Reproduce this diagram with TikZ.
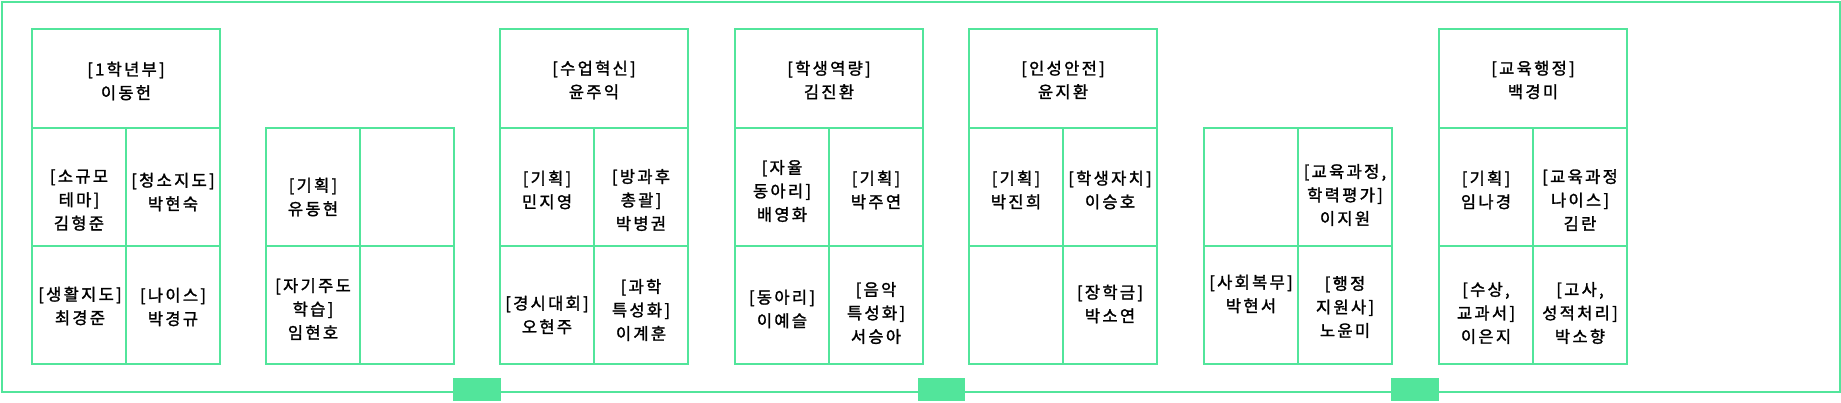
\documentclass[tikz,border=0pt]{standalone}
\usepackage{fontspec}
\newfontfamily\krfont[LetterSpace=14,FakeBold=1.6]{Noto Sans CJK KR}
\definecolor{mint}{HTML}{52E59B}
\tikzset{
	grid/.style={draw=mint,line width=2pt},
	who/.style={font=\krfont\fontsize{16.5}{23.5}\selectfont,align=center,inner sep=0pt},
	tab/.style={fill=mint},
}

\begin{document}
\begin{tikzpicture}[x=1pt,y=-1pt]
		\useasboundingbox (0,0) rectangle (1841,402);
		\draw[grid] (2,2) rectangle (1840,392);
		\fill[tab] (453,378) rectangle (501,401);
		\fill[tab] (918,378) rectangle (965,401);
		\fill[tab] (1391,378) rectangle (1439,401);

		% boxes
		\draw[grid] (32,29) rectangle (220,364) (32,128)--(220,128) (32,246)--(220,246) (126,128)--(126,364);
		\draw[grid] (266,128) rectangle (454,364) (266,246)--(454,246) (360,128)--(360,364);
		\draw[grid] (500,29) rectangle (688,364) (500,128)--(688,128) (500,246)--(688,246) (594,128)--(594,364);
		\draw[grid] (735,29) rectangle (923,364) (735,128)--(923,128) (735,246)--(923,246) (829,128)--(829,364);
		\draw[grid] (969,29) rectangle (1157,364) (969,128)--(1157,128) (969,246)--(1157,246) (1063,128)--(1063,364);
		\draw[grid] (1204,128) rectangle (1392,364) (1204,246)--(1392,246) (1298,128)--(1298,364);
		\draw[grid] (1439,29) rectangle (1627,364) (1439,128)--(1627,128) (1439,246)--(1627,246) (1533,128)--(1533,364);

		\node[who] at (126,81)(t1){[1학년부]\\이동헌};
		\node[who] at (79,200)(t1a){[소규모\\테마]\\김형준};
		\node[who] at (173,192)(t1b){[청소지도]\\박현숙};
		\node[who] at (80,306)(t1c){[생활지도]\\최경준};
		\node[who] at (173,307)(t1d){[나이스]\\박경규};

		\node[who] at (313,197)(t2a){[기획]\\유동현};
		\node[who] at (313,309)(t2c){[자기주도\\학습]\\임현호};

		\node[who] at (594,80)(t3){[수업혁신]\\윤주익};
		\node[who] at (547,190)(t3a){[기획]\\민지영};
		\node[who] at (641,200)(t3b){[방과후\\총괄]\\박병권};
		\node[who] at (547,315)(t3c){[경시대회]\\오현주};
		\node[who] at (641,310)(t3d){[과학\\특성화]\\이계훈};

		\node[who] at (829,80)(t4){[학생역량]\\김진환};
		\node[who] at (782,191)(t4a){[자율\\동아리]\\배영화};
		\node[who] at (876,190)(t4b){[기획]\\박주연};
		\node[who] at (782,309)(t4c){[동아리]\\이예슬};
		\node[who] at (876,313)(t4d){[음악\\특성화]\\서승아};

		\node[who] at (1063,80)(t5){[인성안전]\\윤지환};
		\node[who] at (1016,190)(t5a){[기획]\\박진희};
		\node[who] at (1110,190)(t5b){[학생자치]\\이승호};
		\node[who] at (1110,304)(t5d){[장학금]\\박소연};

		\node[who] at (1345,195)(t6b){[교육과정,\\학력평가]\\이지원};
		\node[who] at (1251,294)(t6c){[사회복무]\\박현서};
		\node[who] at (1345,307)(t6d){[행정\\지원사]\\노윤미};

		\node[who] at (1533,80)(t7){[교육행정]\\백경미};
		\node[who] at (1486,190)(t7a){[기획]\\임나경};
		\node[who] at (1580,200)(t7b){[교육과정\\나이스]\\김란};
		\node[who] at (1486,313)(t7c){[수상,\\교과서]\\이은지};
		\node[who] at (1580,313)(t7d){[고사,\\성적처리]\\박소향};
	\end{tikzpicture}
\end{document}
